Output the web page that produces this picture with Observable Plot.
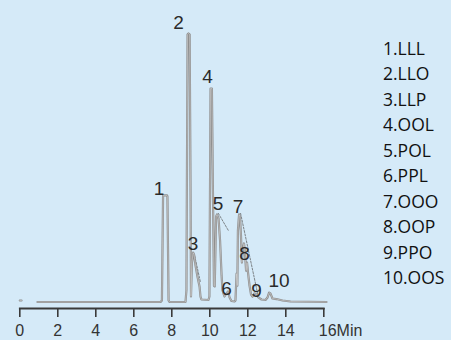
<!DOCTYPE html>
<html>
<head>
<meta charset="utf-8">
<script src="https://cdn.jsdelivr.net/npm/d3@7"></script>
<script src="https://cdn.jsdelivr.net/npm/@observablehq/plot@0.6"></script>
<style>
  html, body { margin: 0; padding: 0; background: #d5eaf8; }
  #wrap { position: relative; width: 451px; height: 340px; background: #d5eaf8; overflow: hidden; }
  #legend { position: absolute; left: 383px; top: 35.7px; font-family: "Open Sans", sans-serif; font-size: 17.5px; line-height: 25.5px; color: #111; }
</style>
</head>
<body>
<div id="wrap"><div id="legend"></div></div>
<script>
// Retention time (min) and relative detector response (% of largest peak)
const times = [0.0, 0.09, 0.5, 0.93, 7.41, 7.48, 7.54, 7.56, 7.75, 7.77, 7.83, 7.88,
  8.72, 8.77, 8.83, 8.88, 8.94, 8.99, 9.01, 9.06, 9.12, 9.17, 9.25, 9.35, 9.46, 9.51, 9.56,
  9.93, 9.98, 10.04, 10.11, 10.17, 10.22, 10.26, 10.33, 10.38, 10.46, 10.54, 10.62, 10.67,
  10.77, 10.88, 10.96, 11.04, 11.14, 11.30, 11.35, 11.41, 11.45, 11.48, 11.54, 11.59, 11.64,
  11.69, 11.75, 11.80, 11.85, 11.91, 11.96, 12.01, 12.09, 12.17, 12.25, 12.35, 12.46, 12.56,
  12.72, 12.93, 13.04, 13.12, 13.19, 13.30, 13.51, 13.83, 14.25, 16.14];
const signal = [0.56, 0.56, null, 0, 0, 0.56, 39.3, 39.7, 39.7, 39.3, 0.56, 0,
  0, 4.3, 99.6, 100, 99.6, 37.8, 2.05, 14.7, 18.4, 17.7, 13.6, 9.5, 5.8, 2.0, 0.93,
  0.75, 2.05, 79.5, 79.5, 37.8, 6.1, 5.8, 31.8, 32.6, 31.1, 22.9, 9.9, 4.3,
  2.05, 3.2, 3.9, 1.7, 0.37, 0.19, 0.56, 10.6, 6.1, 26.6, 32.6, 31.8, 24.8,
  14.7, 19.9, 21.8, 18.4, 11.7, 14.7, 11.0, 6.1, 2.8, 2.05, 3.2, 2.8, 1.7,
  0.93, 0.75, 1.7, 3.5, 3.2, 1.3, 1.1, 0.56, 0.19, 0];

// faint shoulder/tail strokes
const shoulderGroup = ["a", "a", "b", "b", "c", "c"];
const shoulderTimes = [9.20, 9.51, 10.45, 10.98, 11.62, 12.56];
const shoulderSignal = [17.3, 7.3, 33.0, 26.6, 33.0, 1.7];

// peak numbers and label positions
const peakNumbers = ["1", "2", "3", "4", "5", "6", "7", "8", "9", "10"];
const peakLabelTimes = [7.33, 8.35, 9.12, 9.88, 10.43, 10.88, 11.48, 11.83, 12.46, 13.64];
const peakLabelSignal = [42.3, 104.1, 21.6, 83.8, 36.7, 4.7, 35.6, 17.9, 4.3, 8.0];

// compound names
const compounds = ["LLL", "LLO", "LLP", "OOL", "POL", "PPL", "OOO", "OOP", "PPO", "OOS"];

// axis ticks
const tickValues = [0, 2, 4, 6, 8, 10, 12, 14, 16];
const tickLabels = ["0", "2", "4", "6", "8", "10", "12", "14", "16Min"];

const trace = times.map((t, i) => ({t, s: signal[i]}));
const shoulders = shoulderTimes.map((t, i) => ({g: shoulderGroup[i], t, s: shoulderSignal[i]}));
const labels = peakNumbers.map((n, i) => ({n, t: peakLabelTimes[i], s: peakLabelSignal[i]}));
const lastTick = tickValues.length - 1;

const chart = Plot.plot({
  width: 451,
  height: 340,
  marginLeft: 19.3,
  marginRight: 127.7,
  marginTop: 0,
  marginBottom: 32,
  style: {background: "transparent", color: "#333", fontFamily: "'Liberation Sans', Arial, sans-serif", overflow: "visible"},
  x: {domain: [0, 16]},
  y: {domain: [-2.42, 112.29], axis: null},
  marks: [
    Plot.frame({anchor: "bottom", stroke: "#3a3a3a", strokeWidth: 1.8}),
    Plot.axisX({ticks: tickValues, tickFormat: (d, i) => i < lastTick ? tickLabels[i] : "", label: null, tickSize: 9, tickPadding: 7, fontSize: 16, strokeWidth: 1.6, stroke: "#3a3a3a", fill: "#333"}),
    Plot.text([tickLabels[lastTick]], {x: () => tickValues[lastTick], frameAnchor: "bottom", text: d => d, textAnchor: "start", lineAnchor: "top", dx: -5, dy: 16, fontSize: 16, fill: "#333"}),
    Plot.line(shoulders, {x: "t", y: "s", z: "g", stroke: "#555", strokeWidth: 0.7, strokeDasharray: "2,1.5"}),
    Plot.line(trace, {x: "t", y: "s", stroke: "#8e8e8e", strokeWidth: 2.2, strokeLinejoin: "round"}),
    Plot.line(trace, {x: "t", y: "s", stroke: "#e6e6e6", strokeWidth: 0.6, strokeOpacity: 0.8}),
    Plot.text(labels, {x: "t", y: "s", text: "n", fontSize: 19, fill: "#2a2a2a", textAnchor: "middle", lineAnchor: "middle"})
  ]
});
document.getElementById("wrap").prepend(chart);
chart.style.position = "absolute";
chart.style.left = "0";
chart.style.top = "0";

const legend = document.getElementById("legend");
compounds.forEach((c, i) => {
  const div = document.createElement("div");
  div.textContent = peakNumbers[i] + "." + c;
  legend.appendChild(div);
});
</script>
</body>
</html>
